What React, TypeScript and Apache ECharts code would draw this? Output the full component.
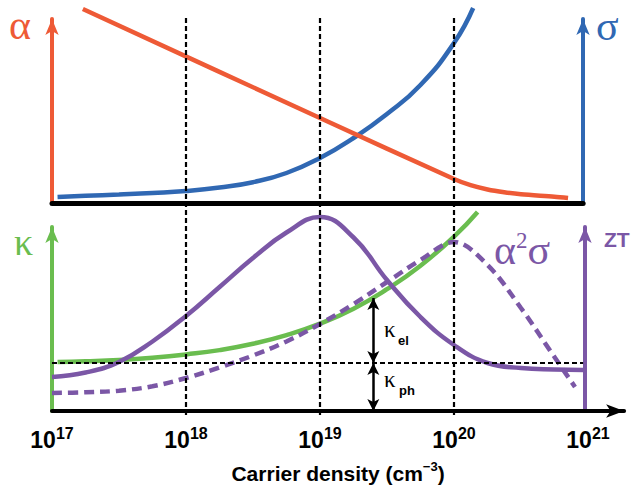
import React, { useEffect, useRef } from 'react';
import * as echarts from 'echarts';

// ---- colours ----
const RED = '#EE5A36';
const BLUE = '#3068B3';
const GREEN = '#6ABD4F';
const PURPLE = '#7B57A6';

// ---- x range (carrier density, cm^-3) ----
const X_MIN = 1e17;
const X_MAX_TOP = 9.2e20;
const X_MAX_BOTTOM = 1.86e21;
const guideDensities = [1e18, 1e19, 1e20];

// ---- top panel: Seebeck coefficient alpha (arbitrary units) ----
const alphaDensity = [1.7e17, 1e19, 1e20, 1.33e20, 1.78e20, 2.37e20, 3.16e20, 5.62e20, 7.1e20];
const alphaValue = [97, 42.5, 12, 8.9, 6.75, 5.35, 4.35, 3.15, 2.5];

// ---- top panel: electrical conductivity sigma ----
const sigmaDensity = [1.1e17, 1.78e17, 3.16e17, 5.62e17, 1e18, 1.78e18, 3.16e18, 5.62e18, 1e19, 1.78e19, 3.16e19, 5.62e19, 1e20, 1.39e20];
const sigmaValue = [3, 3.6, 4.25, 5, 6, 7.75, 10.4, 15, 22.5, 32.5, 44.5, 59, 80, 97.5];

// ---- bottom panel: thermal conductivity kappa ----
const kappaDensity = [1.1e17, 1.78e17, 3.16e17, 5.62e17, 1e18, 1.78e18, 3.16e18, 5.62e18, 1e19, 1.78e19, 3.16e19, 5.62e19, 1e20, 1.5e20];
const kappaValue = [24.5, 24.85, 25.5, 26.65, 28.3, 30.45, 33.6, 37.9, 43.65, 51.15, 60.9, 72.65, 87.15, 99.5];

// ---- bottom panel: figure of merit ZT ----
const ztDensity = [1e17, 1.78e17, 3.16e17, 5.62e17, 1e18, 1.78e18, 3.16e18, 5.62e18, 1e19, 1.78e19, 3.16e19, 5.62e19, 1e20, 1.78e20, 3.16e20, 5.62e20, 9.2e20];
const ztValue = [17, 19.25, 24.5, 34.75, 47.5, 62, 76.5, 89.25, 97, 86.75, 65.5, 47, 33, 24, 21.5, 20.75, 20.5];

// ---- bottom panel: power factor alpha^2 sigma ----
const pfDensity = [1e17, 1.78e17, 3.16e17, 5.62e17, 1e18, 1.78e18, 3.16e18, 5.62e18, 1e19, 1.78e19, 3.16e19, 5.62e19, 1e20, 1.78e20, 3.16e20, 5.62e20, 8e20];
const pfValue = [9, 9.35, 10.15, 12.35, 16.5, 21.75, 27.75, 34.75, 43.5, 53.5, 64.5, 75.5, 84.5, 73, 51.5, 27, 12];

// ---- kappa split: lattice level and electronic arrow ----
const kappaPhLevel = 24;
const kappaArrowDensity = 2.5e19;
const kappaArrowTop = 56.5;
const kappaLineEnd = 9.2e20;

const pairs = (xs: number[], ys: number[]) => xs.map((x, i) => [x, ys[i]]);

const DECADE_PX = 134;
const LEFT = 52;

function buildOption(): any {
  const wTop = DECADE_PX * Math.log10(X_MAX_TOP / X_MIN);
  const wBot = DECADE_PX * Math.log10(X_MAX_BOTTOM / X_MIN);
  const noAxisBits = {
    axisTick: { show: false },
    axisLabel: { show: false },
    splitLine: { show: false },
  };
  const yArrowAxis = (gridIndex: number, position: string, color: string, offset: number, max: number) => ({
    type: 'value',
    gridIndex,
    position,
    offset,
    min: 0,
    max,
    axisLine: {
      show: true,
      onZero: false,
      lineStyle: { color, width: 4 },
      symbol: ['none', 'arrow'],
      symbolSize: [10, 16],
    },
    ...noAxisBits,
  });

  const sup = (d: number) => {
    const e = Math.log10(d);
    const r = Math.round(e);
    if (Math.abs(e - r) > 1e-6) return '';
    return `{b|10}{s|${r}}`;
  };

  const curve = (name: string, xi: number, yi: number, xs: number[], ys: number[], color: string, smooth: number, dashed = false) => ({
    name,
    type: 'line',
    xAxisIndex: xi,
    yAxisIndex: yi,
    data: pairs(xs, ys),
    smooth,
    symbol: 'none',
    clip: false,
    z: 3,
    lineStyle: { color, width: 4.5, type: dashed ? [10, 6] : 'solid' },
  });

  return {
    animation: false,
    grid: [
      { left: LEFT, top: 19, width: wTop, height: 184 },
      { left: LEFT, top: 227, width: wBot, height: 184 },
      { left: LEFT, top: 18, width: wTop, height: 400 },
    ],
    xAxis: [
      {
        type: 'log',
        gridIndex: 0,
        min: X_MIN,
        max: X_MAX_TOP,
        axisLine: { show: true, onZero: false, lineStyle: { color: '#000', width: 5 } },
        ...noAxisBits,
      },
      {
        type: 'log',
        gridIndex: 1,
        min: X_MIN,
        max: X_MAX_BOTTOM,
        axisLine: {
          show: true,
          onZero: false,
          lineStyle: { color: '#000', width: 4 },
          symbol: ['none', 'arrow'],
          symbolSize: [10, 18],
        },
        axisTick: { show: false },
        splitLine: { show: false },
        axisLabel: {
          margin: 14,
          formatter: sup,
          rich: {
            b: { fontFamily: 'Liberation Sans', fontWeight: 'bold', fontSize: 23, color: '#000', lineHeight: 26, verticalAlign: 'bottom' },
            s: { fontFamily: 'Liberation Sans', fontWeight: 'bold', fontSize: 16, color: '#000', verticalAlign: 'top' },
          },
        },
        name: '{t|Carrier density (cm}{s|−3}{t|)}',
        nameLocation: 'middle',
        nameGap: 49,
        nameTextStyle: {
          rich: {
            t: { fontFamily: 'Liberation Sans', fontWeight: 'bold', fontSize: 21, color: '#000', lineHeight: 24, verticalAlign: 'bottom' },
            s: { fontFamily: 'Liberation Sans', fontWeight: 'bold', fontSize: 13, color: '#000', verticalAlign: 'top' },
          },
        },
      },
      {
        type: 'log',
        gridIndex: 2,
        min: X_MIN,
        max: X_MAX_TOP,
        show: false,
      },
    ],
    yAxis: [
      yArrowAxis(0, 'left', RED, 0, 92),
      yArrowAxis(0, 'right', BLUE, 583 - (LEFT + wTop), 92),
      yArrowAxis(1, 'left', GREEN, 0, 92),
      yArrowAxis(1, 'right', PURPLE, 585 - (LEFT + wBot), 92),
      { type: 'value', gridIndex: 2, min: 0, max: 1, show: false },
    ],
    series: [
      {
        name: 'guides',
        type: 'line',
        xAxisIndex: 2,
        yAxisIndex: 4,
        data: [],
        z: 1,
        markLine: {
          silent: true,
          symbol: ['none', 'none'],
          label: { show: false },
          emphasis: { disabled: true },
          lineStyle: { color: '#000', type: [5, 3], width: 2.2 },
          data: guideDensities.map((d) => [{ coord: [d, 1] }, { coord: [d, 0] }]),
        },
      },
      curve('sigma', 0, 1, sigmaDensity, sigmaValue, BLUE, 0.5),
      curve('alpha', 0, 0, alphaDensity, alphaValue, RED, 0.3),
      {
        ...curve('kappa', 1, 2, kappaDensity, kappaValue, GREEN, 0.5),
        markLine: {
          silent: true,
          symbol: ['none', 'none'],
          label: { show: false },
          emphasis: { disabled: true },
          lineStyle: { color: '#000', type: [5, 3], width: 2.2 },
          data: [[{ coord: [X_MIN, kappaPhLevel] }, { coord: [kappaLineEnd, kappaPhLevel] }]],
        },
      },
      curve('pf', 1, 2, pfDensity, pfValue, PURPLE, 0.35, true),
      {
        ...curve('zt', 1, 2, ztDensity, ztValue, PURPLE, 0.45),
        markLine: {
          silent: true,
          symbol: ['arrow', 'arrow'],
          symbolSize: [9, 12],
          label: { show: false },
          emphasis: { disabled: true },
          lineStyle: { color: '#000', type: 'solid', width: 2.5 },
          data: [
            [{ coord: [kappaArrowDensity, kappaArrowTop] }, { coord: [kappaArrowDensity, kappaPhLevel] }],
            [{ coord: [kappaArrowDensity, kappaPhLevel] }, { coord: [kappaArrowDensity, 0] }],
          ],
        },
      },
    ],
    graphic: [
      { type: 'text', left: 9, top: 4, style: { text: 'α', fill: RED, font: '42px "Liberation Serif"' } },
      { type: 'text', left: 596, top: 5, style: { text: 'σ', fill: BLUE, font: '42px "Liberation Serif"' } },
      { type: 'text', left: 14, top: 223, style: { text: 'κ', fill: GREEN, font: '38px "Liberation Serif"' } },
      { type: 'text', left: 604, top: 229, style: { text: 'ZT', fill: PURPLE, font: 'bold 21px "Liberation Sans"' } },
      {
        type: 'text',
        left: 494,
        top: 229,
        style: {
          text: '{a|α}{s|2}{a|σ}',
          rich: {
            a: { fill: PURPLE, font: '42px "Liberation Serif"', verticalAlign: 'bottom', lineHeight: 42 },
            s: { fill: PURPLE, font: '23px "Liberation Serif"', verticalAlign: 'top' },
          },
        },
      },
      { type: 'text', left: 384, top: 318, style: { text: 'κ', fill: '#000', font: '23px "Liberation Serif"' } },
      { type: 'text', left: 398, top: 334, style: { text: 'el', fill: '#000', font: 'bold 13px "Liberation Sans"' } },
      { type: 'text', left: 384, top: 368, style: { text: 'κ', fill: '#000', font: '23px "Liberation Serif"' } },
      { type: 'text', left: 399, top: 384, style: { text: 'ph', fill: '#000', font: 'bold 13px "Liberation Sans"' } },
    ],
  };
}

export default function App() {
  const ref = useRef<HTMLDivElement>(null);
  useEffect(() => {
    if (!ref.current) return;
    const chart = echarts.init(ref.current, null, { renderer: 'svg' });
    chart.setOption(buildOption());
    return () => chart.dispose();
  }, []);
  return (
    <div
      ref={ref}
      style={{ position: 'fixed', left: 0, top: 0, width: 634, height: 489, background: '#fff' }}
    />
  );
}
